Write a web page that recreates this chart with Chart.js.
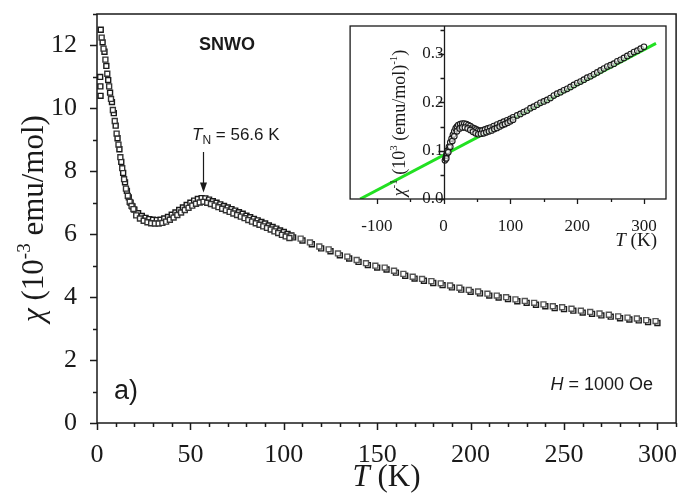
<!DOCTYPE html>
<html>
<head>
<meta charset="utf-8">
<script src="https://cdn.jsdelivr.net/npm/chart.js@4.4.1/dist/chart.umd.min.js"></script>
<style>
  body { margin: 0; background: #fff; }
  #wrap { position: relative; width: 681px; height: 498px; }
  #mainChart { position: absolute; left: 0; top: 0; }
  #insetChart { position: absolute; left: 345px; top: 18px; background: #fff; }
</style>
</head>
<body>
<div id="wrap">
  <canvas id="mainChart" width="681" height="498"></canvas>
  <canvas id="insetChart" width="330" height="232"></canvas>
</div>
<script>
// --- données ---
// chi (1e-3 emu/mol), balayage principal
const tempsDenseA = [2,3,4,5,6,7,8,9,10,11,12,13,14,15,16,17,18,19,20,22,24,26,28,30,32,34,36,38,40,42,44,46,48,50,52,54,56,58,60,62,64,66,68,70,72,74,76,78,80,82,84,86,88,90,92,94,96,98,100,102,104];
const chiDenseA = [12.5,12.1,11.8,11.35,10.9,10.5,10.2,9.85,9.45,9.05,8.7,8.3,7.95,7.65,7.38,7.17,7.0,6.88,6.78,6.67,6.58,6.52,6.48,6.46,6.45,6.46,6.5,6.55,6.62,6.69,6.77,6.85,6.93,7.0,7.07,7.12,7.15,7.14,7.1,7.05,7.0,6.95,6.9,6.85,6.8,6.75,6.7,6.65,6.59,6.54,6.49,6.44,6.39,6.34,6.28,6.23,6.18,6.12,6.07,6.01,5.96];
// second balayage, légèrement décalé
const tempsDenseB = [2.5,3.5,4.5,5.5,6.5,7.5,8.5,9.5,10.5,11.5,12.5,13.5,14.5,15.5,16.5,17.5,18.5,19.5,21,23,25,27,29,31,33,35,37,39,41,43,45,47,49,51,53,55,57,59,61,63,65,67,69,71,73,75,77,79,81,83,85,87,89,91,93,95,97,99,101,103];
const chiDenseB = [12.25,11.9,11.55,11.1,10.7,10.3,9.95,9.6,9.2,8.85,8.45,8.1,7.75,7.45,7.22,7.03,6.9,6.8,6.6,6.5,6.43,6.38,6.35,6.34,6.34,6.36,6.4,6.46,6.53,6.61,6.69,6.77,6.84,6.91,6.97,7.01,7.03,7.0,6.96,6.91,6.86,6.81,6.76,6.71,6.66,6.61,6.56,6.51,6.45,6.4,6.35,6.3,6.25,6.2,6.15,6.09,6.04,5.98,5.93,5.88];
// points isolés à basse température
const tempsLow = [1.7, 1.8, 1.9];
const chiLow = [11.0, 10.7, 10.4];
// partie espacée (pas de 5 K)
const tempsSparseA = [105,110,115,120,125,130,135,140,145,150,155,160,165,170,175,180,185,190,195,200,205,210,215,220,225,230,235,240,245,250,255,260,265,270,275,280,285,290,295,300];
const chiSparseA = [5.9,5.8,5.68,5.55,5.46,5.33,5.23,5.12,5.02,4.94,4.88,4.78,4.68,4.59,4.52,4.45,4.38,4.31,4.24,4.17,4.12,4.05,3.99,3.94,3.87,3.82,3.76,3.71,3.65,3.62,3.57,3.51,3.47,3.42,3.38,3.33,3.29,3.26,3.21,3.18];
const tempsSparseB = [104,109,114,119,124,129,134,139,144,149,154,159,164,169,174,179,184,189,194,199,204,209,214,219,224,229,234,239,244,249,254,259,264,269,274,279,284,289,294,299];
const chiSparseB = [5.95,5.86,5.74,5.61,5.52,5.39,5.29,5.18,5.08,5.0,4.94,4.84,4.74,4.65,4.58,4.51,4.44,4.37,4.3,4.23,4.18,4.11,4.05,4.0,3.93,3.88,3.82,3.77,3.71,3.68,3.63,3.57,3.53,3.48,3.44,3.39,3.35,3.32,3.27,3.24];

const mainXTicks = [0, 50, 100, 150, 200, 250, 300];
const mainYTicks = [0, 2, 4, 6, 8, 10, 12];

// encart : 1/chi (1e3 (emu/mol)^-1)
const tempsInv = [2,3,4,5,6,8,10,12,14,16,18,20,22,25,28,31,34,37,40,43,46,49,52,55,58,62,66,70,75,80,85,90,95,100,104,110,115,120,125,130,135,140,145,150,155,160,165,170,175,180,185,190,195,200,205,210,215,220,225,230,235,240,245,250,255,260,265,270,275,280,285,290,295,300];
const chiInv = [0.08,0.085,0.09,0.095,0.1,0.108,0.117,0.125,0.133,0.14,0.146,0.15,0.153,0.155,0.156,0.156,0.155,0.153,0.151,0.148,0.146,0.144,0.142,0.141,0.142,0.144,0.146,0.148,0.151,0.154,0.157,0.16,0.163,0.166,0.169,0.173,0.176,0.18,0.183,0.188,0.191,0.195,0.199,0.202,0.205,0.209,0.214,0.218,0.221,0.225,0.228,0.232,0.236,0.24,0.243,0.247,0.251,0.254,0.258,0.262,0.266,0.27,0.274,0.277,0.28,0.285,0.288,0.292,0.296,0.3,0.304,0.307,0.311,0.315];
// bord inférieur de la bande épaisse
const tempsInvB = [4,7,10,13,16,20,24,28,32,36,40,44,48,52,56,60,64,68,72,76,80,84,88,92,96,100,104];
const chiInvB = [0.084,0.097,0.108,0.12,0.13,0.14,0.146,0.148,0.148,0.146,0.143,0.139,0.136,0.134,0.135,0.136,0.138,0.14,0.142,0.145,0.147,0.15,0.153,0.155,0.158,0.161,0.164];
// droite de Curie-Weiss (verte)
const fitT = [-125, 318];
const fitInv = [0, 0.322];

const insetXTicks = [-100, 0, 100, 200, 300];
const insetYTicks = [0, 0.1, 0.2, 0.3];

const SERIF = '"Liberation Serif", "Times New Roman", serif';
const SANS = '"Liberation Sans", Arial, sans-serif';
const INK = '#1a1a1a';

const pts = (xs, ys) => xs.map((x, i) => ({ x: x, y: ys[i] }));

// pas de marge automatique pour les étiquettes : la zone du graphe reste fixe
function noPad(s) { s.paddingTop = 0; s.paddingBottom = 0; s.paddingLeft = 0; s.paddingRight = 0; }

// texte à plusieurs polices sur une ligne
function runs(ctx, parts, x, y, align) {
    let w = 0;
    parts.forEach(p => { ctx.font = p.f; w += ctx.measureText(p.t).width; });
    let cx = align === 'center' ? x - w / 2 : (align === 'right' ? x - w : x);
    ctx.textAlign = 'left';
    ctx.textBaseline = 'alphabetic';
    parts.forEach(p => {
        ctx.font = p.f;
        ctx.fillText(p.t, cx, y + (p.dy || 0));
        cx += ctx.measureText(p.t).width;
    });
}

// --- décor du graphique principal ---
const mainDeco = {
    id: 'mainDeco',
    afterDraw(chart) {
        const { ctx, chartArea: a, scales: { x, y } } = chart;
        ctx.save();
        ctx.strokeStyle = INK;
        ctx.fillStyle = INK;
        ctx.lineWidth = 1.5;
        ctx.strokeRect(a.left, a.top, a.right - a.left, a.bottom - a.top);
        ctx.beginPath();
        for (let t = 0; t <= 310; t += 10) {
            const px = Math.round(x.getPixelForValue(t)) + 0.5;
            ctx.moveTo(px, a.bottom);
            ctx.lineTo(px, a.bottom + (t % 50 === 0 ? 7 : 4));
        }
        for (let v = 0; v <= 13; v += 1) {
            const py = Math.round(y.getPixelForValue(v)) + 0.5;
            ctx.moveTo(a.left, py);
            ctx.lineTo(a.left - (v % 2 === 0 ? 7 : 4), py);
        }
        ctx.stroke();

        // titres d'axes
        runs(ctx, [
            { t: 'T', f: 'italic 31px ' + SERIF },
            { t: ' (K)', f: '31px ' + SERIF }
        ], (a.left + a.right) / 2, 486, 'center');

        ctx.save();
        ctx.translate(43, (a.top + a.bottom) / 2);
        ctx.rotate(-Math.PI / 2);
        runs(ctx, [
            { t: 'χ', f: 'italic 31px ' + SERIF },
            { t: ' (10', f: '31px ' + SERIF },
            { t: '-3', f: '19px ' + SERIF, dy: -13 },
            { t: ' emu/mol)', f: '31px ' + SERIF }
        ], 0, 0, 'center');
        ctx.restore();

        // annotations
        runs(ctx, [{ t: 'SNWO', f: 'bold 18px ' + SANS }], 227, 50, 'center');
        runs(ctx, [
            { t: 'T', f: 'italic 17px ' + SANS },
            { t: 'N', f: '12px ' + SANS, dy: 4 },
            { t: ' = 56.6 K', f: '17px ' + SANS }
        ], 192, 140, 'left');
        runs(ctx, [{ t: 'a)', f: '27px ' + SANS }], 114, 399, 'left');
        runs(ctx, [
            { t: 'H', f: 'italic 18px ' + SANS },
            { t: ' = 1000 Oe', f: '18px ' + SANS }
        ], 653, 390, 'right');

        // flèche vers T_N
        const ax = Math.round(x.getPixelForValue(56.6)) + 0.5;
        const tipY = y.getPixelForValue(7.33);
        ctx.lineWidth = 1.2;
        ctx.beginPath();
        ctx.moveTo(ax, 152);
        ctx.lineTo(ax, tipY - 8);
        ctx.stroke();
        ctx.beginPath();
        ctx.moveTo(ax - 3.5, tipY - 10);
        ctx.lineTo(ax + 3.5, tipY - 10);
        ctx.lineTo(ax, tipY);
        ctx.closePath();
        ctx.fill();
        ctx.restore();
    }
};

const squareStyle = (color) => ({
    showLine: false,
    pointStyle: 'rect',
    pointRadius: 3.5,
    pointBorderWidth: 1.4,
    pointBorderColor: color,
    pointBackgroundColor: '#fff',
    pointHoverRadius: 3.5
});

new Chart(document.getElementById('mainChart'), {
    type: 'scatter',
    data: {
        datasets: [
            Object.assign({ data: pts(tempsDenseB, chiDenseB) }, squareStyle('#333')),
            Object.assign({ data: pts(tempsSparseB, chiSparseB) }, squareStyle('#555')),
            Object.assign({ data: pts(tempsLow, chiLow) }, squareStyle(INK)),
            Object.assign({ data: pts(tempsDenseA, chiDenseA) }, squareStyle(INK)),
            Object.assign({ data: pts(tempsSparseA, chiSparseA) }, squareStyle(INK))
        ]
    },
    options: {
        responsive: false,
        animation: false,
        layout: { padding: { top: 14, right: 3, left: 0, bottom: 0 } },
        plugins: { legend: { display: false }, tooltip: { enabled: false } },
        scales: {
            x: {
                type: 'linear', min: 0, max: 310,
                grid: { display: false },
                border: { display: false },
                afterBuildTicks: s => { s.ticks = mainXTicks.map(v => ({ value: v })); },
                afterFit: s => { s.height = 75; noPad(s); },
                ticks: { color: INK, font: { family: SERIF, size: 26 }, padding: 9, maxRotation: 0 }
            },
            y: {
                type: 'linear', min: 0, max: 13,
                grid: { display: false },
                border: { display: false },
                afterBuildTicks: s => { s.ticks = mainYTicks.map(v => ({ value: v })); },
                afterFit: s => { s.width = 97; noPad(s); },
                ticks: { color: INK, font: { family: SERIF, size: 26 }, padding: 12 }
            }
        }
    },
    plugins: [mainDeco]
});

// --- encart ---
const insetDeco = {
    id: 'insetDeco',
    afterDraw(chart) {
        const { ctx, chartArea: a, scales: { x, y } } = chart;
        ctx.save();
        ctx.strokeStyle = INK;
        ctx.fillStyle = INK;
        ctx.lineWidth = 1.3;
        ctx.strokeRect(a.left, a.top, a.right - a.left, a.bottom - a.top);
        const x0 = Math.round(x.getPixelForValue(0)) + 0.5;
        ctx.beginPath();
        ctx.moveTo(x0, a.bottom);
        ctx.lineTo(x0, a.top);
        for (let t = -100; t <= 300; t += 50) {
            const px = Math.round(x.getPixelForValue(t)) + 0.5;
            ctx.moveTo(px, a.bottom);
            ctx.lineTo(px, a.bottom + (t % 100 === 0 ? 5 : 3));
        }
        for (let k = 0; k <= 7; k++) {
            const py = Math.round(y.getPixelForValue(k * 0.05)) + 0.5;
            ctx.moveTo(x0, py);
            ctx.lineTo(x0 - (k % 2 === 0 ? 6 : 4), py);
        }
        ctx.stroke();

        runs(ctx, [
            { t: 'T', f: 'italic 19px ' + SERIF },
            { t: ' (K)', f: '19px ' + SERIF }
        ], 312, 228, 'right');

        ctx.save();
        ctx.translate(60, 105);
        ctx.rotate(-Math.PI / 2);
        runs(ctx, [
            { t: 'χ', f: 'italic 18px ' + SERIF },
            { t: '-1', f: '11px ' + SERIF, dy: -8 },
            { t: ' (10', f: '18px ' + SERIF },
            { t: '3', f: '11px ' + SERIF, dy: -8 },
            { t: ' (emu/mol)', f: '18px ' + SERIF },
            { t: '-1', f: '11px ' + SERIF, dy: -8 },
            { t: ')', f: '18px ' + SERIF }
        ], 0, 0, 'center');
        ctx.restore();
        ctx.restore();
    }
};

const circleStyle = {
    showLine: false,
    pointStyle: 'circle',
    pointRadius: 2.8,
    pointBorderWidth: 1.1,
    pointBorderColor: INK,
    pointBackgroundColor: 'rgba(255,255,255,0.6)'
};

new Chart(document.getElementById('insetChart'), {
    type: 'scatter',
    data: {
        datasets: [
            Object.assign({ data: pts(tempsInvB, chiInvB) }, circleStyle),
            Object.assign({ data: pts(tempsInv, chiInv) }, circleStyle),
            {
                data: pts(fitT, fitInv),
                showLine: true,
                borderColor: '#22e022',
                borderWidth: 3,
                pointRadius: 0
            }
        ]
    },
    options: {
        responsive: false,
        animation: false,
        layout: { padding: { top: 8, right: 9, left: 3, bottom: 0 } },
        plugins: { legend: { display: false }, tooltip: { enabled: false } },
        scales: {
            x: {
                type: 'linear', min: -140, max: 333,
                grid: { display: false },
                border: { display: false },
                afterBuildTicks: s => { s.ticks = insetXTicks.map(v => ({ value: v })); },
                afterFit: s => { s.height = 51; noPad(s); },
                ticks: { color: INK, font: { family: SERIF, size: 17 }, padding: 9, maxRotation: 0 }
            },
            y: {
                type: 'linear', min: 0, max: 0.358,
                position: { x: 0 },
                grid: { display: false },
                border: { display: false },
                afterBuildTicks: s => { s.ticks = insetYTicks.map(v => ({ value: v })); },
                afterFit: s => { noPad(s); },
                ticks: {
                    color: INK, font: { family: SERIF, size: 17 }, padding: 11,
                    callback: v => Number(v).toFixed(1)
                }
            }
        }
    },
    plugins: [insetDeco]
});
</script>
</body>
</html>
